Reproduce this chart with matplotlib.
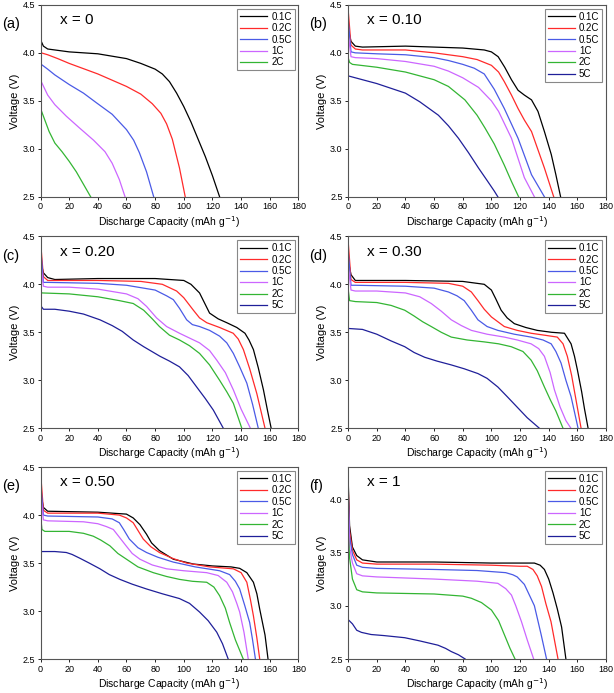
import matplotlib
matplotlib.use('Agg')
import matplotlib.pyplot as plt

# Datos: capacidad (mAh/g) y voltaje (V) por tasa
rates = ['0.1C', '0.2C', '0.5C', '1C', '2C', '5C']
colors = ['#000000', '#ff2a2a', '#4a5ae6', '#cc66ff', '#33b533', '#1f1f99']

panel_a = {
    '0.1C': ([0, 0.5, 2, 5, 20, 40, 60, 70, 80, 85, 90, 95, 100, 105, 110, 115, 120, 125],
             [4.22, 4.12, 4.07, 4.04, 4.01, 3.99, 3.94, 3.89, 3.83, 3.78, 3.70, 3.58, 3.44, 3.28, 3.10, 2.92, 2.72, 2.5]),
    '0.2C': ([0, 0.5, 5, 12, 20, 40, 60, 70, 78, 84, 88, 92, 97, 101],
             [4.4, 4.0, 3.98, 3.94, 3.89, 3.78, 3.65, 3.57, 3.47, 3.37, 3.26, 3.10, 2.80, 2.5]),
    '0.5C': ([0, 0.5, 5, 10, 20, 30, 39, 50, 60, 65, 69, 74, 79],
             [4.15, 3.88, 3.83, 3.77, 3.67, 3.58, 3.48, 3.36, 3.20, 3.09, 2.96, 2.76, 2.5]),
    '1C': ([0, 0.5, 5, 10, 18, 27, 37, 45, 50, 55, 59],
           [3.95, 3.7, 3.56, 3.46, 3.34, 3.22, 3.09, 2.97, 2.85, 2.68, 2.5]),
    '2C': ([0, 0.5, 3, 6, 10, 15, 20, 25, 30, 35],
           [3.5, 3.4, 3.3, 3.18, 3.06, 2.97, 2.87, 2.76, 2.63, 2.5]),
}

panel_b = {
    '0.1C': ([0, 2, 5, 10, 40, 80, 95, 100, 104.7, 109.3, 114, 118.6, 123, 128, 132.5, 137, 141.8, 145, 148.3],
             [4.25, 4.12, 4.07, 4.06, 4.07, 4.05, 4.03, 4.01, 3.96, 3.85, 3.72, 3.61, 3.56, 3.51, 3.39, 3.18, 2.94, 2.73, 2.5]),
    '0.2C': ([0, 2, 5, 10, 40, 60, 80, 90, 100, 105, 109, 114, 118.6, 123, 128, 137, 143.5],
             [4.45, 4.08, 4.04, 4.03, 4.03, 4.0, 3.96, 3.93, 3.87, 3.80, 3.70, 3.56, 3.42, 3.30, 3.18, 2.80, 2.5]),
    '0.5C': ([0, 2, 5, 20, 40, 60, 70, 80, 88, 95, 102, 109, 118.6, 128, 137],
             [4.35, 4.01, 4.0, 3.99, 3.98, 3.95, 3.92, 3.88, 3.84, 3.78, 3.62, 3.42, 3.11, 2.73, 2.5]),
    '1C': ([0, 2, 5, 20, 40, 60, 70, 80, 91, 100, 105, 114, 123, 130],
           [4.2, 3.96, 3.95, 3.94, 3.91, 3.86, 3.81, 3.74, 3.64, 3.50, 3.39, 3.11, 2.70, 2.5]),
    '2C': ([0, 1, 3, 20, 40, 60, 70, 81.5, 90, 95.4, 102, 109, 114, 119],
           [3.95, 3.9, 3.88, 3.85, 3.80, 3.72, 3.65, 3.51, 3.35, 3.22, 3.05, 2.83, 2.66, 2.5]),
    '5C': ([0, 10, 20, 30, 40, 50, 63, 70, 77, 84, 91, 97, 102, 104.5],
           [3.76, 3.72, 3.68, 3.63, 3.58, 3.49, 3.35, 3.24, 3.11, 2.96, 2.80, 2.67, 2.56, 2.5]),
}

panel_c = {
    '0.1C': ([0, 2, 5, 10, 40, 80, 100, 105, 111, 114, 118, 124, 130, 137, 142.7, 145.5, 148.6, 152, 155.6, 158.5, 161],
             [4.25, 4.12, 4.07, 4.05, 4.06, 4.06, 4.04, 4.0, 3.91, 3.82, 3.70, 3.64, 3.60, 3.55, 3.49, 3.42, 3.32, 3.13, 2.90, 2.68, 2.5]),
    '0.2C': ([0, 2, 5, 40, 70, 85, 95, 100, 106.7, 111, 116, 125, 134.5, 138, 141.6, 146, 151, 156.7],
             [4.45, 4.08, 4.04, 4.04, 4.03, 4.0, 3.93, 3.86, 3.73, 3.65, 3.60, 3.55, 3.49, 3.43, 3.32, 3.12, 2.86, 2.5]),
    '0.5C': ([0, 2, 5, 40, 60, 80, 88, 92.7, 97, 102, 106, 111, 118, 125, 130, 134.6, 139, 144, 148, 152],
             [4.4, 4.02, 4.02, 4.01, 3.99, 3.94, 3.88, 3.84, 3.75, 3.63, 3.58, 3.56, 3.52, 3.46, 3.39, 3.28, 3.14, 2.97, 2.75, 2.5]),
    '1C': ([0, 2, 5, 20, 40, 60, 68, 74, 81, 88, 97, 111, 118, 123, 129, 134.6, 140, 146.5],
           [4.25, 3.98, 3.97, 3.97, 3.95, 3.90, 3.85, 3.77, 3.65, 3.56, 3.49, 3.39, 3.31, 3.21, 3.08, 2.90, 2.70, 2.5]),
    '2C': ([0, 1, 20, 40, 55, 64.7, 72, 78, 83, 90, 97, 104, 111, 118, 125, 130, 134.6, 140.5],
           [3.93, 3.91, 3.90, 3.87, 3.83, 3.80, 3.73, 3.64, 3.56, 3.47, 3.42, 3.36, 3.28, 3.16, 3.0, 2.88, 2.76, 2.5]),
    '5C': ([0, 2, 10, 20, 30, 41.5, 50, 57, 64.7, 72, 83.4, 90, 97, 103, 109, 115, 120.6, 127.6],
           [3.78, 3.74, 3.74, 3.72, 3.69, 3.63, 3.57, 3.51, 3.42, 3.35, 3.25, 3.20, 3.14, 3.05, 2.93, 2.81, 2.69, 2.5]),
}

panel_d = {
    '0.1C': ([0, 2, 5, 40, 80, 95, 100, 103, 106.8, 111, 116, 124, 132, 142, 151, 155.6, 158, 160, 163, 165, 167.5],
             [4.25, 4.1, 4.04, 4.04, 4.03, 4.0, 3.94, 3.85, 3.73, 3.65, 3.59, 3.55, 3.52, 3.50, 3.49, 3.38, 3.25, 3.11, 2.88, 2.70, 2.5]),
    '0.2C': ([0, 2, 5, 40, 70, 80, 86, 90.6, 95, 100, 109, 118, 127.7, 137, 146, 150, 153, 156, 159, 162.6],
             [4.45, 4.05, 4.02, 4.02, 4.01, 3.98, 3.92, 3.83, 3.74, 3.66, 3.56, 3.52, 3.49, 3.47, 3.45, 3.38, 3.25, 3.05, 2.80, 2.5]),
    '0.5C': ([0, 2, 5, 40, 60, 70, 76, 81, 86, 90.6, 97, 104.5, 116, 127.7, 136, 141.7, 145, 148.6, 152, 155.6, 160.5],
             [4.35, 3.99, 3.99, 3.98, 3.96, 3.92, 3.88, 3.83, 3.73, 3.63, 3.56, 3.52, 3.48, 3.45, 3.42, 3.38, 3.30, 3.18, 3.0, 2.83, 2.5]),
    '1C': ([0, 2, 5, 20, 40, 50, 58, 65, 72, 79, 86, 97, 109, 118, 127.7, 133, 137, 141, 144, 148, 152, 155.5],
           [4.2, 3.94, 3.93, 3.93, 3.91, 3.87, 3.80, 3.72, 3.63, 3.57, 3.52, 3.48, 3.45, 3.42, 3.38, 3.33, 3.25, 3.08, 2.90, 2.72, 2.58, 2.5]),
    '2C': ([0, 1, 5, 20, 30, 39.5, 46, 52, 58, 65, 72, 83, 95, 105, 113.8, 122, 127.7, 132, 137, 141, 145, 150],
           [3.95, 3.83, 3.82, 3.81, 3.78, 3.73, 3.67, 3.61, 3.56, 3.50, 3.45, 3.42, 3.40, 3.38, 3.35, 3.30, 3.21, 3.10, 2.93, 2.80, 2.68, 2.5]),
    '5C': ([0, 10, 20, 30, 39.5, 46, 53.4, 62, 72, 81, 90.6, 97, 104.5, 111, 118, 125, 133.5],
           [3.54, 3.53, 3.48, 3.41, 3.35, 3.29, 3.24, 3.20, 3.16, 3.12, 3.07, 3.02, 2.93, 2.83, 2.72, 2.61, 2.5]),
}

panel_e = {
    '0.1C': ([0, 2, 5, 40, 60, 64.7, 69.4, 74, 77.5, 83, 92.7, 106.7, 120, 133, 139, 144, 148.6, 151, 153, 156.7, 158.8],
             [4.25, 4.08, 4.04, 4.03, 4.01, 3.97, 3.90, 3.80, 3.71, 3.63, 3.54, 3.49, 3.47, 3.46, 3.445, 3.40, 3.30, 3.18, 3.02, 2.75, 2.5]),
    '0.2C': ([0, 2, 5, 40, 55, 60, 64.7, 68, 71.7, 77, 83, 92, 101.9, 118, 134.6, 140, 144, 146.5, 148.6, 151, 153],
             [4.45, 4.05, 4.02, 4.02, 4.0, 3.97, 3.92, 3.84, 3.75, 3.67, 3.61, 3.55, 3.50, 3.46, 3.44, 3.40, 3.30, 3.12, 2.95, 2.72, 2.5]),
    '0.5C': ([0, 2, 5, 40, 50, 55, 58, 62, 68, 74, 82, 92.7, 108, 125, 132, 136, 139, 142.5, 146, 148, 150],
             [4.35, 4.0, 3.99, 3.98, 3.96, 3.92, 3.85, 3.75, 3.66, 3.61, 3.56, 3.51, 3.46, 3.42, 3.38, 3.31, 3.23, 3.06, 2.88, 2.70, 2.5]),
    '1C': ([0, 2, 5, 30, 40, 46, 50.8, 55, 59.7, 64, 69.4, 78, 88, 100, 116, 124, 130, 134, 137, 139, 142, 145],
           [4.25, 3.95, 3.94, 3.93, 3.91, 3.88, 3.85, 3.77, 3.68, 3.60, 3.54, 3.48, 3.44, 3.42, 3.40, 3.37, 3.30, 3.20, 3.08, 2.99, 2.78, 2.5]),
    '2C': ([0, 1, 3, 20, 30, 36.8, 42, 48.4, 54, 60, 68, 78.7, 88, 97, 106, 116, 121, 125, 129, 132, 136, 141.5],
           [4.0, 3.85, 3.83, 3.83, 3.81, 3.78, 3.74, 3.68, 3.60, 3.54, 3.46, 3.40, 3.36, 3.33, 3.31, 3.30, 3.25, 3.16, 3.03, 2.88, 2.70, 2.5]),
    '5C': ([0, 10, 18, 22, 27.5, 34, 41.5, 48, 55.4, 64, 74, 85, 97, 104, 111, 117, 123, 127, 131],
           [3.62, 3.62, 3.61, 3.59, 3.55, 3.50, 3.44, 3.38, 3.33, 3.28, 3.23, 3.18, 3.13, 3.08, 2.99, 2.90, 2.78, 2.66, 2.5]),
}

panel_f = {
    '0.1C': ([0, 1, 3, 6, 10, 20, 60, 100, 125, 130, 134, 137, 140, 143, 146, 149, 152],
             [4.2, 3.75, 3.55, 3.47, 3.43, 3.41, 3.41, 3.40, 3.40, 3.40, 3.38, 3.34, 3.25, 3.12, 2.97, 2.80, 2.5]),
    '0.2C': ([0, 1, 3, 6, 10, 20, 60, 100, 120, 125, 129, 132, 135, 138, 141.6, 146.5],
             [4.15, 3.7, 3.52, 3.43, 3.40, 3.39, 3.39, 3.38, 3.37, 3.37, 3.34, 3.28, 3.18, 3.02, 2.85, 2.5]),
    '0.5C': ([0, 1, 3, 6, 10, 20, 60, 90, 110, 115, 118, 123, 130, 134.7, 138.5],
             [4.1, 3.65, 3.48, 3.38, 3.36, 3.35, 3.34, 3.33, 3.31, 3.29, 3.27, 3.20, 3.0, 2.73, 2.5]),
    '1C': ([0, 1, 3, 6, 10, 20, 60, 90, 104.5, 110, 114, 117, 121, 125, 129.5],
           [4.0, 3.55, 3.40, 3.30, 3.28, 3.27, 3.25, 3.23, 3.21, 3.16, 3.10, 3.0, 2.85, 2.68, 2.5]),
    '2C': ([0, 1, 3, 6, 10, 20, 60, 80, 86, 93, 100, 105, 109, 113, 116.5],
           [3.7, 3.45, 3.25, 3.15, 3.13, 3.12, 3.11, 3.09, 3.07, 3.03, 2.96, 2.86, 2.73, 2.60, 2.5]),
    '5C': ([0, 3, 6, 9.3, 16, 25, 39.5, 50, 62.7, 68, 72, 77, 81.7],
           [2.87, 2.83, 2.77, 2.75, 2.73, 2.72, 2.70, 2.67, 2.63, 2.60, 2.57, 2.54, 2.5]),
}

panels = [('(a)', 'x = 0', panel_a), ('(b)', 'x = 0.10', panel_b),
          ('(c)', 'x = 0.20', panel_c), ('(d)', 'x = 0.30', panel_d),
          ('(e)', 'x = 0.50', panel_e), ('(f)', 'x = 1', panel_f)]

plt.rcParams['font.family'] = 'Liberation Sans'

fig = plt.figure(figsize=(6.14, 6.93), dpi=100)

# posiciones de los ejes en fraccion de figura
lefts = [0.066, 0.567]
bottoms = [0.716, 0.382, 0.049]
w, h = 0.42, 0.277

for i, (tag, title, data) in enumerate(panels):
    ax = fig.add_axes([lefts[i % 2], bottoms[i // 2], w, h])
    for rate, col in zip(rates, colors):
        if rate in data:
            q, v = data[rate]
            ax.plot(q, v, color=col, lw=0.9, label=rate)
    ax.set_xlim(0, 180)
    if tag == '(f)':
        ax.set_ylim(2.5, 4.3)
        ax.set_yticks([2.5, 3.0, 3.5, 4.0])
    else:
        ax.set_ylim(2.5, 4.5)
        ax.set_yticks([2.5, 3.0, 3.5, 4.0, 4.5])
    ax.set_xticks(range(0, 181, 20))
    ax.tick_params(labelsize=6.5, length=2.5, width=0.6, pad=1.5)
    for s in ax.spines.values():
        s.set_linewidth(0.8)
        s.set_color('#555555')
    ax.set_xlabel('Discharge Capacity (mAh g$^{-1}$)', fontsize=7.5, labelpad=2)
    ax.set_ylabel('Voltage (V)', fontsize=8, labelpad=2)
    ax.text(0.075, 0.92, title, transform=ax.transAxes, fontsize=11, va='center')
    ax.text(-0.15, 0.9, tag, transform=ax.transAxes, fontsize=10.5, va='center')
    leg = ax.legend(loc='upper right', fontsize=7, handlelength=2.8, handletextpad=0.4,
                    labelspacing=0.15, borderpad=0.3, borderaxespad=0.4,
                    fancybox=False, framealpha=1)
    leg.get_frame().set_edgecolor('#888888')
    leg.get_frame().set_linewidth(0.8)

fig.savefig('out.png', dpi=100)
